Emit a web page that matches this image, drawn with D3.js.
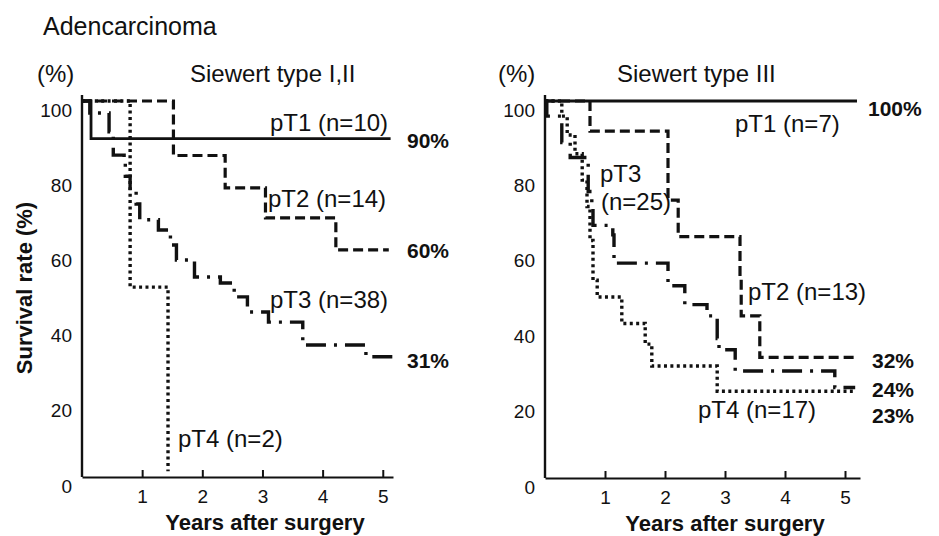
<!DOCTYPE html>
<html>
<head>
<meta charset="utf-8">
<script src="https://cdn.jsdelivr.net/npm/d3@7"></script>
<style>
html,body{margin:0;padding:0;background:#fff;}
svg{display:block;}
text{font-family:"Liberation Sans",Arial,Helvetica,sans-serif;fill:#111;}
</style>
</head>
<body>
<svg id="chart" width="939" height="536"></svg>
<script>
// ---- data (time in years, survival in %) ----
const yearTicks = [1, 2, 3, 4, 5];
const survivalTicks = [0, 20, 40, 60, 80, 100];

const leftPT1 = [[0,100],[0.15,90],[5.13,90]];
const leftPT2 = [[0,100],[1.52,85.5],[2.38,76.9],[3.05,68.9],[4.22,60.4],[5.1,60.4]];
const leftPT3 = [[0,100],[0.13,96.8],[0.45,91.8],[0.52,85.6],[0.7,84],[0.72,80],[0.8,76],[0.9,72.6],[0.96,68.4],[1.27,65.7],[1.47,61.7],[1.57,57.7],[1.87,53.2],[2.3,51.6],[2.53,47.9],[2.75,43.9],[3.1,41.2],[3.67,35.1],[4.72,32],[5.17,32]];
const leftPT4 = [[0,100],[0.8,50.5],[1.43,1.5]];

const rightPT1 = [[0,100],[5.2,100]];
const rightPT2 = [[0,100],[0.75,92],[2.05,73.7],[2.22,64],[3.25,53],[3.27,43],[3.58,32],[5.2,32]];
const rightPT3 = [[0,100],[0.03,96],[0.28,89],[0.42,85],[0.72,76],[0.78,72],[0.8,67],[1.13,64.5],[1.15,57],[2.05,51],[2.33,46],[2.7,43],[2.87,37],[2.9,34],[3.17,28.4],[4.83,24],[5.17,24]];
const rightPT4 = [[0,100],[0.28,96],[0.37,91],[0.5,86],[0.62,79],[0.7,72],[0.75,63],[0.8,52.5],[0.87,48],[1.28,41],[1.67,35.5],[1.78,29.7],[2.87,23],[5.13,23]];

const leftNames = ["pT1 (n=10)", "pT2 (n=14)", "pT3 (n=38)", "pT4 (n=2)"];
const rightNames = ["pT1 (n=7)", "pT2 (n=13)", "pT3", "(n=25)", "pT4 (n=17)"];
const leftEnds = ["90%", "60%", "31%"];
const rightEnds = ["100%", "32%", "24%", "23%"];

// ---- drawing ----
const svg = d3.select("#chart");
svg.append("rect").attr("width",939).attr("height",536).attr("fill","#fff");

const styles = {
  solid:   {w:2.8, dash:null},
  dashed:  {w:3.2, dash:"10,5"},
  dashdot: {w:3.4, dash:"20,8,3,8"},
  dotted:  {w:3.4, dash:"3,3.4"}
};

function panel(cfg, series){
  const g = svg.append("g");
  const x = d3.scaleLinear().domain([0, cfg.xMax]).range([cfg.x0, cfg.x1]);
  const y = d3.scaleLinear().domain([0, 100]).range([cfg.y0, cfg.y100]);

  // x axis
  const xa = g.append("g").attr("transform", `translate(0,${cfg.y0})`)
    .call(d3.axisBottom(x).tickValues(yearTicks).tickFormat(d3.format("d"))
      .tickSize(-7).tickSizeOuter(0).tickPadding(13));
  xa.select(".domain").attr("stroke","#111").attr("stroke-width",2.2);
  xa.selectAll(".tick line").attr("stroke","#111").attr("stroke-width",2);
  xa.selectAll(".tick text").attr("font-size",19).attr("fill","#111")
    .attr("font-family",'"Liberation Sans",Arial,sans-serif');

  // y axis
  const ya = g.append("g").attr("transform", `translate(${cfg.x0},0)`)
    .call(d3.axisLeft(y).tickValues(survivalTicks).tickFormat(d3.format("d"))
      .tickSize(0).tickPadding(10));
  ya.select(".domain").remove();
  ya.selectAll(".tick text").attr("font-size",19).attr("fill","#111")
    .attr("font-family",'"Liberation Sans",Arial,sans-serif')
    .attr("transform","translate(0,9)");
  g.append("line").attr("x1",x(0)).attr("x2",x(0)).attr("y1",y(0)).attr("y2",y(101.6))
    .attr("stroke","#111").attr("stroke-width",2.4);

  const line = d3.line().x(d=>x(d[0])).y(d=>y(d[1])).curve(d3.curveStepAfter);
  series.forEach(s=>{
    const st = styles[s.style];
    g.append("path").datum(s.data).attr("d", line)
      .attr("fill","none").attr("stroke","#111")
      .attr("stroke-width", st.w)
      .attr("stroke-dasharray", st.dash)
      .attr("stroke-linejoin","miter");
  });
  return g;
}

panel({x0:82, x1:393, xMax:5.17, y0:477, y100:101}, [
  {data:leftPT1, style:"solid"},
  {data:leftPT2, style:"dashed"},
  {data:leftPT4, style:"dotted"},
  {data:leftPT3, style:"dashdot"}
]);
panel({x0:545, x1:860, xMax:5.25, y0:478, y100:101}, [
  {data:rightPT1, style:"solid"},
  {data:rightPT2, style:"dashed"},
  {data:rightPT4, style:"dotted"},
  {data:rightPT3, style:"dashdot"}
]);

function txt(s, xp, yp, size, opts={}){
  const t = svg.append("text").attr("x",xp).attr("y",yp).attr("font-size",size).text(s);
  if (opts.bold) t.attr("font-weight","bold");
  if (opts.anchor) t.attr("text-anchor",opts.anchor);
  if (opts.rotate) t.attr("transform",`rotate(-90,${xp},${yp})`);
  return t;
}

// titles
txt("Adencarcinoma", 43, 35, 25);
txt("(%)", 37, 82, 24);
txt("Siewert type I,II", 190, 82, 24);
txt("(%)", 498, 82, 24);
txt("Siewert type III", 617, 82, 24);

// left labels
txt(leftNames[0], 270, 131, 24);
txt(leftNames[1], 268, 207, 24);
txt(leftNames[2], 270, 308, 24);
txt(leftNames[3], 178, 447, 24);
txt(leftEnds[0], 407, 148, 21, {bold:true});
txt(leftEnds[1], 407, 258, 21, {bold:true});
txt(leftEnds[2], 407, 368, 21, {bold:true});

// right labels
txt(rightNames[0], 735, 132, 24);
txt(rightNames[1], 748, 300, 24);
txt(rightNames[2], 600, 182, 24);
txt(rightNames[3], 601, 210, 24);
txt(rightNames[4], 698, 418, 24);
txt(rightEnds[0], 868, 116, 21, {bold:true});
txt(rightEnds[1], 872, 368, 21, {bold:true});
txt(rightEnds[2], 872, 397, 21, {bold:true});
txt(rightEnds[3], 872, 423, 21, {bold:true});

// axis titles
txt("Years after surgery", 265, 530, 22, {bold:true, anchor:"middle"});
txt("Years after surgery", 725, 531, 22, {bold:true, anchor:"middle"});
txt("Survival rate (%)", 32, 288, 22, {bold:true, anchor:"middle", rotate:true});
</script>
</body>
</html>
